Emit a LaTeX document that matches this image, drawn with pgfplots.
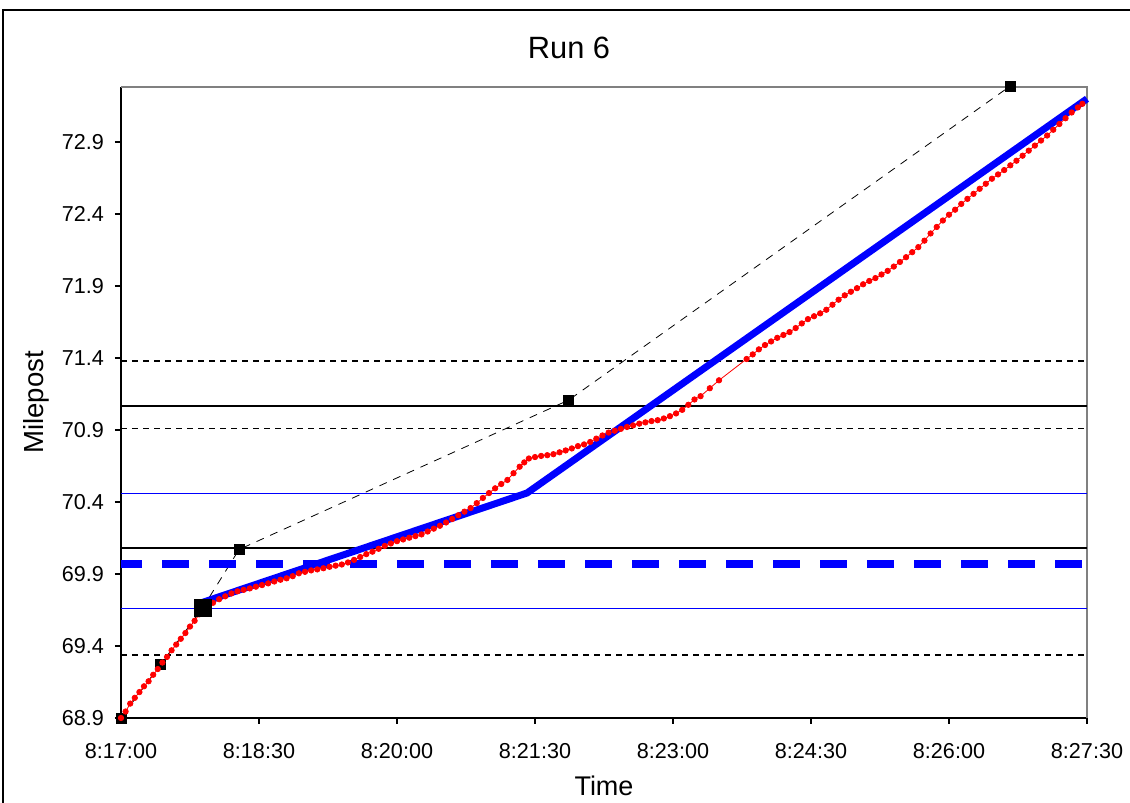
\documentclass[border=0pt]{standalone}
\usepackage{pgfplots}
\pgfplotsset{compat=1.18}
\usepackage{fontspec}
\setmainfont{Liberation Sans}
\definecolor{xblue}{RGB}{0,0,255}
\definecolor{xred}{RGB}{255,0,0}
\begin{document}
\begin{tikzpicture}
\useasboundingbox (0,0) rectangle (565pt,401.5pt);
\draw[black, line width=0.75pt] (1.5pt,-1pt) -- (1.5pt,396.5pt) -- (567pt,396.5pt);
\begin{axis}[
  at={(60.5pt,42.5pt)}, anchor=south west,
  scale only axis, width=483pt, height=315.5pt,
  xmin=0, xmax=630, ymin=68.9, ymax=73.282,
  axis lines=left, axis line style={-, line width=0.75pt},
  clip=false,
  xtick={0,90,180,270,360,450,540,630},
  xticklabels={8:17:00,8:18:30,8:20:00,8:21:30,8:23:00,8:24:30,8:26:00,8:27:30},
  ytick={68.9,69.4,69.9,70.4,70.9,71.4,71.9,72.4,72.9},
  tick align=outside, major tick length=3pt,
  tick style={black, line width=0.6pt},
  /pgf/number format/assume math mode=true,
  yticklabel style={/pgf/number format/fixed, /pgf/number format/fixed zerofill, /pgf/number format/precision=1, xshift=-2pt},
  ticklabel style={font=\fontsize{10.8}{13}\selectfont},
  xticklabel style={yshift=-6pt},
  title={Run 6},
  title style={font=\fontsize{15.4}{18}\selectfont, at={(axis description cs:0.4638,1.0586)}, anchor=center, yshift=-5pt},
  xlabel={Time},
  xlabel style={font=\fontsize{13.5}{16}\selectfont, at={(axis description cs:0.5,-0.1078)}, anchor=center, yshift=0pt},
  ylabel={Milepost},
  ylabel style={font=\fontsize{13.8}{16}\selectfont, at={(axis description cs:-0.088,0.5)}, anchor=center, xshift=0pt, yshift=0pt},
]
\draw[gray, line width=1pt] (rel axis cs:0,1) -- (rel axis cs:1,1) -- (rel axis cs:1,0);
% horizontal reference lines
\addplot[black, line width=0.9pt, dash pattern=on 3pt off 2.5pt] coordinates {(0,71.38) (630,71.38)};
\addplot[black, line width=1pt] coordinates {(0,71.07) (630,71.07)};
\addplot[black, line width=0.9pt, dash pattern=on 3pt off 2.5pt] coordinates {(0,70.91) (630,70.91)};
\addplot[xblue, line width=0.7pt] coordinates {(0,70.46) (630,70.46)};
\addplot[black, line width=1pt] coordinates {(0,70.08) (630,70.08)};
\addplot[xblue, line width=0.7pt] coordinates {(0,69.66) (630,69.66)};
\addplot[black, line width=0.9pt, dash pattern=on 3pt off 2.5pt] coordinates {(0,69.34) (630,69.34)};
% black dashed with squares
\addplot[black, line width=0.4pt, dash pattern=on 4pt off 3.5pt, mark=square*, mark size=2.5pt, mark options={solid}] coordinates {
(0,68.90) (26,69.275) (53,69.66) (77,70.07) (292,71.108) (580,73.289)};
% red measured trace
\addplot[xred, line width=0.4pt, mark=*, mark size=1.35pt] table {
t y
0 68.900
3 68.945
6 69.000
9 69.040
12 69.080
15 69.120
18 69.155
21 69.200
24 69.240
27 69.285
30 69.324
33 69.370
36 69.410
39 69.450
42 69.490
45 69.535
48 69.575
51 69.620
54 69.650
57 69.675
60 69.700
64 69.725
68 69.745
72 69.765
76 69.780
80 69.790
84 69.800
88 69.812
92 69.823
96 69.835
100 69.848
104 69.860
108 69.870
112 69.885
116 69.905
120 69.915
124 69.925
128 69.932
132 69.940
136 69.950
140 69.958
144 69.966
148 69.980
152 69.998
156 70.018
160 70.038
164 70.055
168 70.075
172 70.095
176 70.112
180 70.128
184 70.140
188 70.152
192 70.163
196 70.175
200 70.195
204 70.215
208 70.235
212 70.258
216 70.282
220 70.308
224 70.333
228 70.358
232 70.392
236 70.428
240 70.462
244 70.495
248 70.525
252 70.553
256 70.600
260 70.645
263 70.675
266 70.702
270 70.712
274 70.720
278 70.725
282 70.732
286 70.745
290 70.758
294 70.772
298 70.788
302 70.800
306 70.817
310 70.840
314 70.862
318 70.882
322 70.895
326 70.908
330 70.921
334 70.932
338 70.944
342 70.953
346 70.962
350 70.968
354 70.980
358 70.996
362 71.015
366 71.040
370 71.075
374 71.112
378 71.135
384 71.190
390 71.245
408 71.393
412 71.425
416 71.460
420 71.490
424 71.515
428 71.540
432 71.560
436 71.580
440 71.608
444 71.640
448 71.670
452 71.690
456 71.710
460 71.735
464 71.770
468 71.805
472 71.835
476 71.860
480 71.885
484 71.912
488 71.935
492 71.955
496 71.980
500 72.005
504 72.035
508 72.067
512 72.100
516 72.135
520 72.170
524 72.215
528 72.265
532 72.310
536 72.355
540 72.395
544 72.430
548 72.470
552 72.505
556 72.540
560 72.575
564 72.610
568 72.645
572 72.675
576 72.705
580 72.738
584 72.770
588 72.805
592 72.840
596 72.875
600 72.910
604 72.945
608 72.985
612 73.025
616 73.065
620 73.105
624 73.140
627 73.165
};
% big square
\addplot[only marks, black, mark=square*, mark size=4.4pt] coordinates {(53.4,69.664)};
% thick blue dashed level
\addplot[xblue, line width=3.6pt, dash pattern=on 13.5pt off 10pt, dash phase=3pt] coordinates {(0,69.97) (630,69.97)};
% thick blue fitted line
\addplot[xblue, line width=3.5pt] coordinates {(49.6,69.69) (264.8,70.4625) (630,73.20)};
\end{axis}
\end{tikzpicture}
\end{document}
